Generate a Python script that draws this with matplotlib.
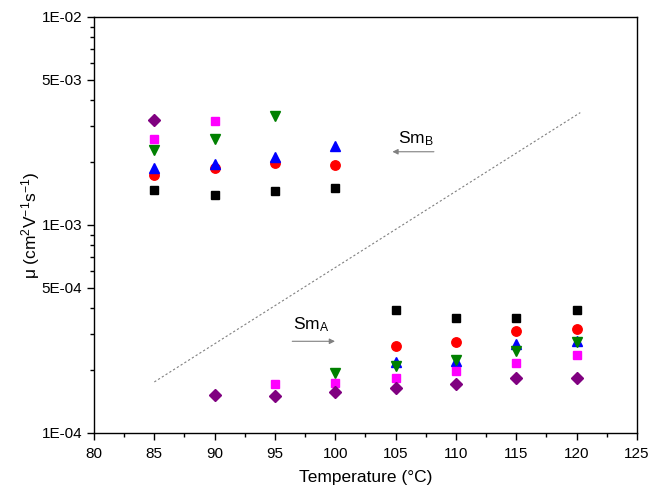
import numpy as np
import matplotlib.pyplot as plt
from matplotlib.ticker import FixedLocator, LogLocator, NullFormatter, FuncFormatter, MultipleLocator

plt.rcParams['font.family'] = ['Liberation Sans', 'DejaVu Sans']
plt.rcParams['mathtext.fontset'] = 'custom'
plt.rcParams['mathtext.rm'] = 'Liberation Sans'
plt.rcParams['mathtext.it'] = 'Liberation Sans'

# mobility (cm^2 V^-1 s^-1) vs temperature (deg C)
temp_black = [85, 90, 95, 100, 105, 110, 115, 120]
mu_black = [1.48e-3, 1.40e-3, 1.46e-3, 1.51e-3, 3.92e-4, 3.56e-4, 3.56e-4, 3.90e-4]

temp_red = [85, 90, 95, 100, 105, 110, 115, 120]
mu_red = [1.73e-3, 1.88e-3, 1.99e-3, 1.94e-3, 2.61e-4, 2.73e-4, 3.08e-4, 3.16e-4]

temp_blue = [85, 90, 95, 100, 105, 110, 115, 120]
mu_blue = [1.87e-3, 1.97e-3, 2.12e-3, 2.41e-3, 2.20e-4, 2.22e-4, 2.67e-4, 2.77e-4]

temp_green = [85, 90, 95, 100, 105, 110, 115, 120]
mu_green = [2.30e-3, 2.60e-3, 3.36e-3, 1.94e-4, 2.09e-4, 2.25e-4, 2.48e-4, 2.75e-4]

temp_magenta = [85, 90, 95, 100, 105, 110, 115, 120]
mu_magenta = [2.60e-3, 3.17e-3, 1.72e-4, 1.74e-4, 1.83e-4, 1.99e-4, 2.18e-4, 2.38e-4]

temp_purple = [85, 90, 95, 100, 105, 110, 115, 120]
mu_purple = [3.21e-3, 1.52e-4, 1.51e-4, 1.58e-4, 1.65e-4, 1.72e-4, 1.83e-4, 1.84e-4]

# phase boundary guide line
guide_x = [85, 120.3]
guide_y = [1.76e-4, 3.47e-3]

fig = plt.figure(figsize=(6.52, 4.91), dpi=100)
ax = fig.add_axes([94 / 652, 1 - 433 / 491, (637 - 94) / 652, (433 - 17) / 491])

ax.plot(guide_x, guide_y, color='gray', lw=0.8, ls=(0, (2, 2)))

ms = 6.8
ax.plot(temp_black, mu_black, 's', color='black', ms=ms - 0.5, ls='none')
ax.plot(temp_red, mu_red, 'o', color='red', ms=ms, ls='none')
ax.plot(temp_blue, mu_blue, '^', color='blue', ms=ms + 1, ls='none')
ax.plot(temp_green, mu_green, 'v', color='green', ms=ms + 1, ls='none')
ax.plot(temp_magenta, mu_magenta, 's', color='magenta', ms=ms - 0.5, ls='none')
ax.plot(temp_purple, mu_purple, 'D', color='purple', ms=ms - 0.8, ls='none')

ax.set_yscale('log')
ax.set_xlim(80, 125)
ax.set_ylim(1e-4, 1e-2)

ax.xaxis.set_major_locator(MultipleLocator(5))
ax.xaxis.set_minor_locator(MultipleLocator(2.5))
ax.yaxis.set_major_locator(FixedLocator([1e-4, 5e-4, 1e-3, 5e-3, 1e-2]))
ax.yaxis.set_minor_locator(LogLocator(base=10, subs=np.arange(2, 10)))
ax.yaxis.set_minor_formatter(NullFormatter())


def sci_label(v, pos):
    m, e = f'{v:.0E}'.split('E')
    return f'{m}E{e[0]}{int(e[1:]):02d}'


ax.yaxis.set_major_formatter(FuncFormatter(sci_label))

ax.tick_params(which='major', direction='out', length=5, width=1, labelsize=11)
ax.tick_params(axis='x', which='major', pad=5)
ax.tick_params(which='minor', direction='out', length=3, width=1)
for s in ax.spines.values():
    s.set_linewidth(1)

ax.set_xlabel('Temperature (°C)', fontsize=12.5)
ax.set_ylabel(r'μ (cm$^2$V$^{-1}$s$^{-1}$)', fontsize=12.5)
ax.xaxis.set_label_coords(0.5, -(470 - 433) / 416)
ax.yaxis.set_label_coords(-(94 - 42) / 543, 0.5)

# phase annotations
ax.annotate('', xy=(104.5, 2.25e-3), xytext=(108.4, 2.25e-3),
            arrowprops=dict(arrowstyle='-|>', color='gray', lw=0.8, mutation_scale=8))
ax.text(106.7, 2.6e-3, r'Sm$_\mathregular{B}$', fontsize=12.5, ha='center', va='center')
ax.annotate('', xy=(100.2, 2.76e-4), xytext=(96.2, 2.76e-4),
            arrowprops=dict(arrowstyle='-|>', color='gray', lw=0.8, mutation_scale=8))
ax.text(98.0, 3.3e-4, r'Sm$_\mathregular{A}$', fontsize=12.5, ha='center', va='center')

fig.savefig('out.png', dpi=100)
